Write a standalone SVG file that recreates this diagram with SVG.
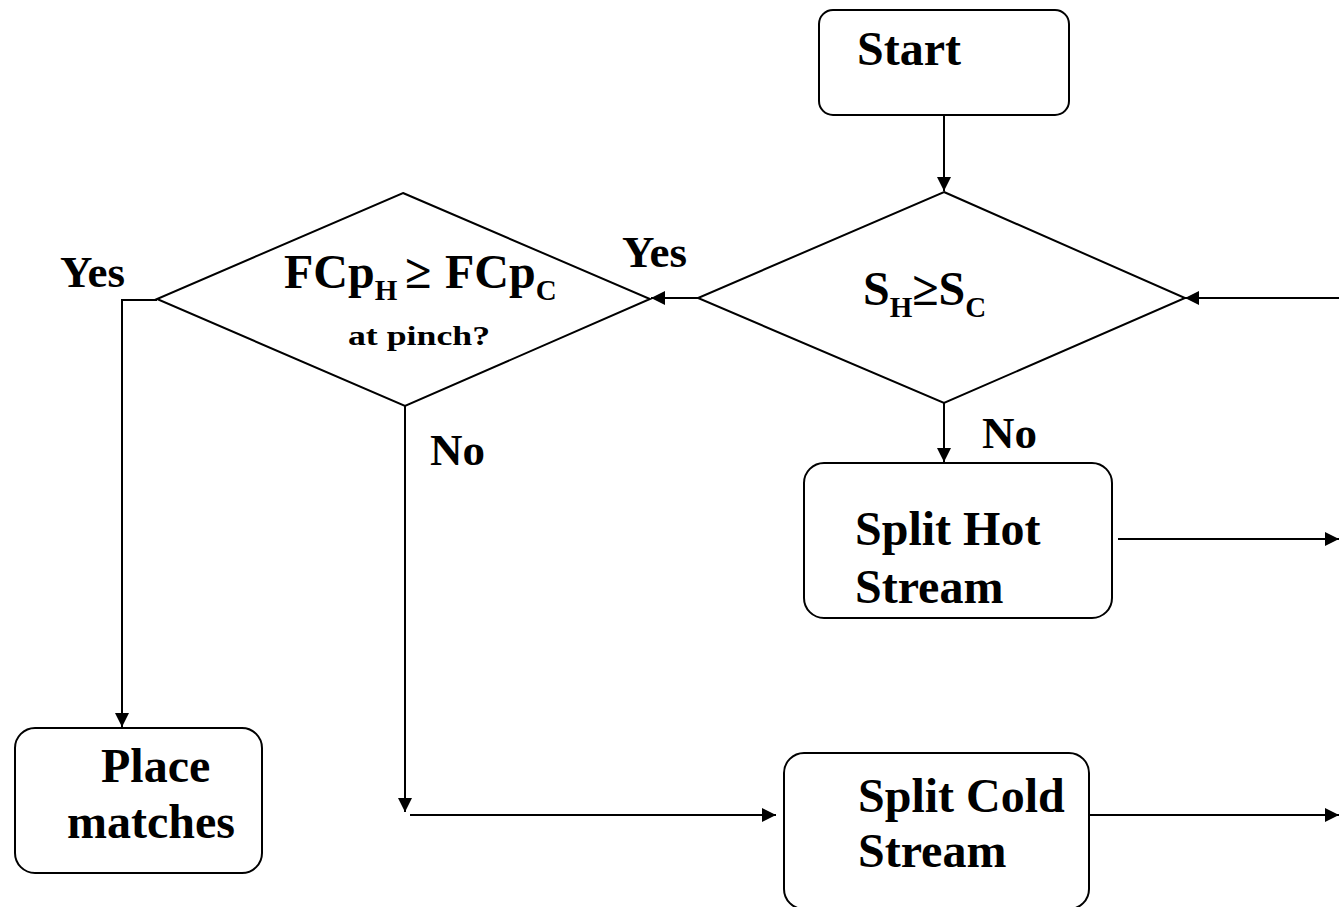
<svg xmlns="http://www.w3.org/2000/svg" width="1339" height="907" viewBox="0 0 1339 907">
<style>
.box{fill:#fff;stroke:#000;stroke-width:2}
.ln{fill:none;stroke:#000;stroke-width:2}
.t{font-family:"Liberation Serif","Times New Roman",serif;font-weight:bold;fill:#000}
.big{font-size:48px}
.sub{font-size:29px}
.lbl{font-size:45px}
</style>
<defs>
<marker id="ah" markerUnits="userSpaceOnUse" markerWidth="16" markerHeight="14" refX="14" refY="7" orient="auto">
<path d="M0,0 L14,7 L0,14 Z" fill="#000"/>
</marker>
</defs>
<rect width="1339" height="907" fill="#fff"/>
<g id="connectors">
<line class="ln" x1="944" y1="115" x2="944" y2="191" marker-end="url(#ah)"/>
<line class="ln" x1="698" y1="298" x2="651" y2="298" marker-end="url(#ah)"/>
<line class="ln" x1="1339" y1="298" x2="1185" y2="298" marker-end="url(#ah)"/>
<line class="ln" x1="944" y1="403" x2="944" y2="462" marker-end="url(#ah)"/>
<polyline class="ln" points="157,300 122,300 122,727" marker-end="url(#ah)"/>
<line class="ln" x1="405" y1="406" x2="405" y2="812" marker-end="url(#ah)"/>
<line class="ln" x1="410" y1="815" x2="776" y2="815" marker-end="url(#ah)"/>
<line class="ln" x1="1118" y1="539" x2="1339" y2="539" marker-end="url(#ah)"/>
<line class="ln" x1="1090" y1="815" x2="1339" y2="815" marker-end="url(#ah)"/>
</g>
<g id="start">
<rect class="box" x="819" y="10" width="250" height="105" rx="14"/>
<text class="t big" x="857" y="65">Start</text>
</g>
<g id="decision-s">
<polygon class="box" points="944,192 1185,298 944,403 698,298"/>
<text class="t big" x="863" y="305">S<tspan class="sub" dy="12">H</tspan><tspan dy="-12">≥S</tspan><tspan class="sub" dy="12">C</tspan></text>
</g>
<g id="decision-fcp">
<polygon class="box" points="403,193 650,299 405,406 157,299"/>
<text class="t big" x="284" y="288">FCp<tspan class="sub" dy="12">H</tspan><tspan x="405" dy="-12">≥</tspan><tspan x="445">FCp</tspan><tspan class="sub" dy="12">C</tspan></text>
<text class="t" x="348" y="345" font-size="28" textLength="142" lengthAdjust="spacingAndGlyphs">at  pinch?</text>
</g>
<g id="split-hot">
<rect class="box" x="804" y="463" width="308" height="155" rx="20"/>
<text class="t big" x="855" y="545">Split Hot</text>
<text class="t big" x="855" y="603">Stream</text>
</g>
<g id="place-matches">
<rect class="box" x="15" y="728" width="247" height="145" rx="20"/>
<text class="t big" x="101" y="782">Place</text>
<text class="t big" x="67" y="838">matches</text>
</g>
<g id="split-cold">
<rect class="box" x="784" y="753" width="305" height="156" rx="20"/>
<text class="t big" x="858" y="812">Split Cold</text>
<text class="t big" x="858" y="867">Stream</text>
</g>
<g id="labels">
<text class="t lbl" x="60" y="287">Yes</text>
<text class="t lbl" x="622" y="267">Yes</text>
<text class="t lbl" x="982" y="448">No</text>
<text class="t lbl" x="430" y="465">No</text>
</g>
</svg>
